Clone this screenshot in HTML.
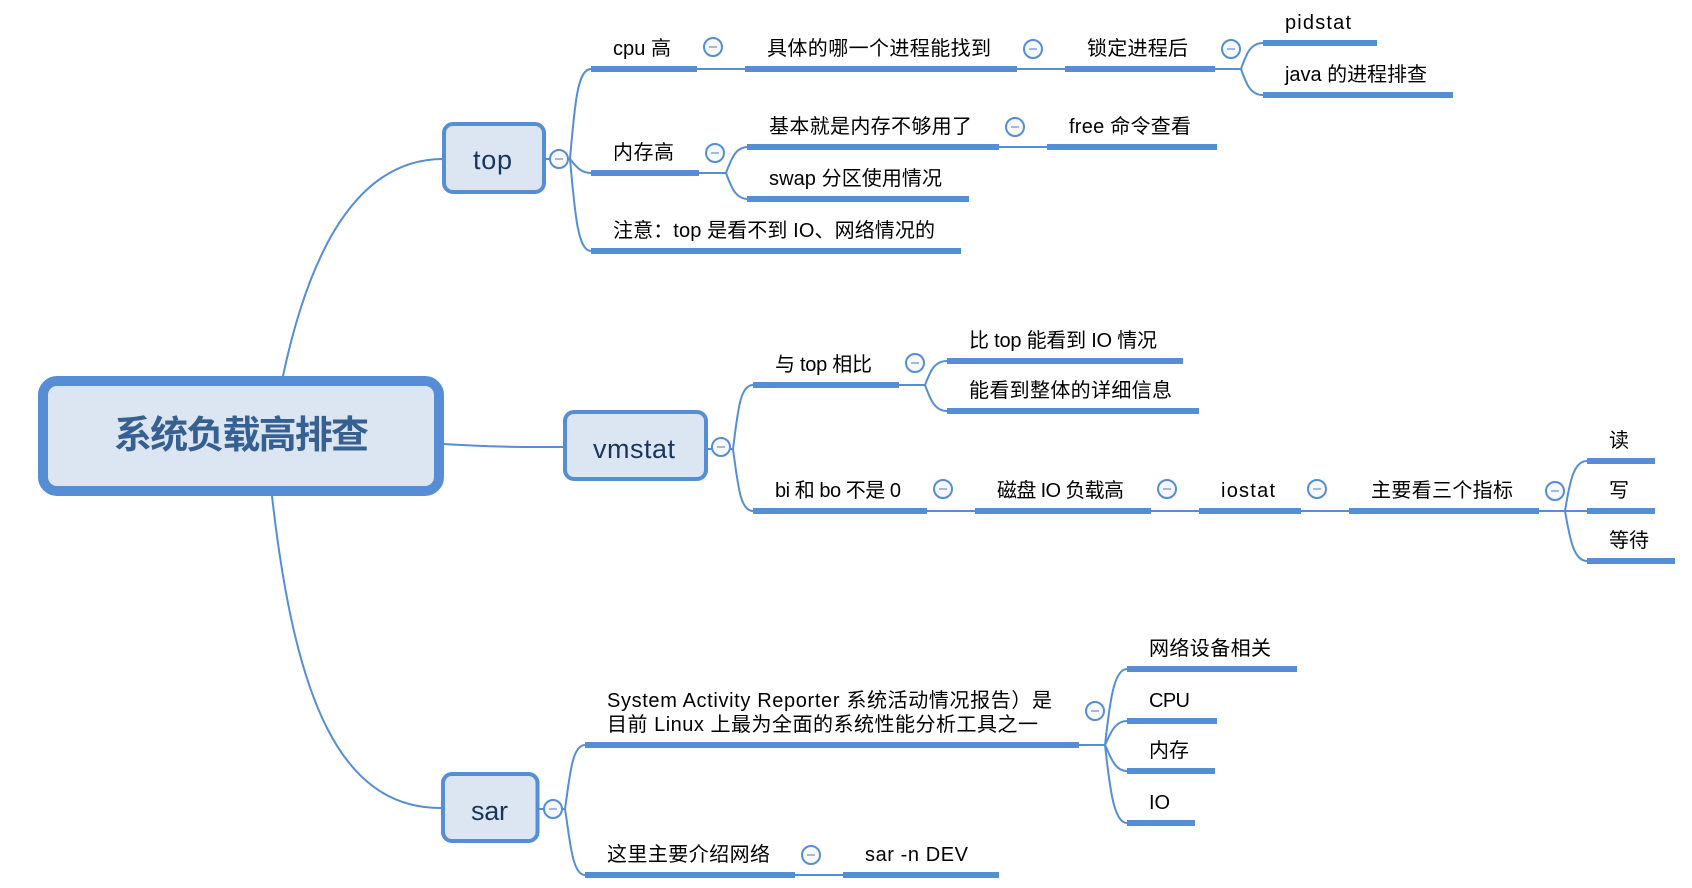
<!DOCTYPE html>
<html><head><meta charset="utf-8"><style>
html,body{margin:0;padding:0;background:#fff;width:1692px;height:888px;overflow:hidden}
svg{display:block}
text{font-family:"Liberation Sans","Noto Sans CJK SC",sans-serif;font-size:20px;fill:#000}
.b{fill:#558ed5}
.c{fill:none;stroke:#558ed5;stroke-width:2}
.n{fill:#dce6f2;stroke:#558ed5;stroke-width:4}
.o{fill:#f6f8fc;stroke:#558ed5;stroke-width:2}
.m{stroke:#a3b8df;stroke-width:2}
.t{font-size:27px;fill:#17365d}
</style></head><body>
<svg width="1692" height="888" viewBox="0 0 1692 888" xmlns="http://www.w3.org/2000/svg">
<!-- main curves -->
<path class="c" d="M283,376 C315,225 370,159 443,159"/>
<path class="c" d="M443,444 C490,447 520,447 563,447"/>
<path class="c" d="M272,496 C295,700 340,808 441,808"/>
<!-- connectors -->
<path class="c" d="M546,159H570 C575,100 578,69 591,69 M570,159 C575,165 580,173 591,173 M570,159 C575,215 578,251 591,251"/>
<path class="c" d="M697,69H745 M1017,69H1065 M1215,69H1241 C1246,55 1250,43 1263,43 M1241,69 C1246,83 1250,95 1263,95"/>
<path class="c" d="M699,173H726 C731,160 735,147 748,147 M726,173 C731,186 735,199 748,199 M999,147H1047"/>
<path class="c" d="M707,449H733 C738,410 740,385 753,385 M733,449 C738,485 740,511 753,511"/>
<path class="c" d="M899,385H925 C930,372 934,361 947,361 M925,385 C930,398 934,411 947,411"/>
<path class="c" d="M927,511H975 M1151,511H1199 M1301,511H1349 M1539,511H1587 M1565,511 C1570,480 1574,461 1587,461 M1565,511 C1570,540 1574,561 1587,561"/>
<path class="c" d="M1079,745H1105 C1110,700 1114,669 1127,669 M1105,745 C1110,735 1114,721 1127,721 M1105,745 C1110,755 1114,771 1127,771 M1105,745 C1110,790 1114,823 1127,823"/>
<path class="c" d="M539,809H565 C570,775 572,745 585,745 M565,809 C570,840 572,875 585,875 M795,875H845"/>
<!-- bars -->
<rect class="b" x="591" y="66" width="106" height="6"/>
<rect class="b" x="745" y="66" width="272" height="6"/>
<rect class="b" x="1065" y="66" width="150" height="6"/>
<rect class="b" x="1263" y="40" width="114" height="6"/>
<rect class="b" x="1263" y="92" width="190" height="6"/>
<rect class="b" x="591" y="170" width="108" height="6"/>
<rect class="b" x="747" y="144" width="252" height="6"/>
<rect class="b" x="1047" y="144" width="170" height="6"/>
<rect class="b" x="747" y="196" width="222" height="6"/>
<rect class="b" x="591" y="248" width="370" height="6"/>
<rect class="b" x="753" y="382" width="146" height="6"/>
<rect class="b" x="947" y="358" width="236" height="6"/>
<rect class="b" x="947" y="408" width="252" height="6"/>
<rect class="b" x="753" y="508" width="174" height="6"/>
<rect class="b" x="975" y="508" width="176" height="6"/>
<rect class="b" x="1199" y="508" width="102" height="6"/>
<rect class="b" x="1349" y="508" width="190" height="6"/>
<rect class="b" x="1587" y="458" width="68" height="6"/>
<rect class="b" x="1587" y="508" width="68" height="6"/>
<rect class="b" x="1587" y="558" width="88" height="6"/>
<rect class="b" x="585" y="742" width="494" height="6"/>
<rect class="b" x="1127" y="666" width="170" height="6"/>
<rect class="b" x="1127" y="718" width="90" height="6"/>
<rect class="b" x="1127" y="768" width="88" height="6"/>
<rect class="b" x="1127" y="820" width="68" height="6"/>
<rect class="b" x="585" y="872" width="210" height="6"/>
<rect class="b" x="843" y="872" width="156" height="6"/>
<!-- nodes -->
<rect x="43" y="381" width="396" height="110" rx="14" fill="#dce6f2" stroke="#558ed5" stroke-width="10"/>
<text x="114" y="448" textLength="255" style="font-size:38px;font-weight:bold;fill:#366092">系统负载高排查</text>
<rect class="n" x="444" y="124" width="100" height="68" rx="9"/>
<text class="t" x="473" y="169" textLength="39">top</text>
<rect class="n" x="565" y="412" width="141" height="67" rx="9"/>
<text class="t" x="593" y="458" textLength="82">vmstat</text>
<rect class="n" x="443" y="774" width="94.500" height="67" rx="9"/>
<text class="t" x="471" y="820" textLength="37">sar</text>
<!-- circles -->
<g>
<circle class="o" cx="559" cy="159" r="9"/><path class="m" d="M555,159H563"/>
<circle class="o" cx="721" cy="447" r="9"/><path class="m" d="M717,447H725"/>
<circle class="o" cx="553" cy="809" r="9"/><path class="m" d="M549,809H557"/>
<circle class="o" cx="713" cy="47" r="9"/><path class="m" d="M709,47H717"/>
<circle class="o" cx="1033" cy="49" r="9"/><path class="m" d="M1029,49H1037"/>
<circle class="o" cx="1231" cy="49" r="9"/><path class="m" d="M1227,49H1235"/>
<circle class="o" cx="715" cy="153" r="9"/><path class="m" d="M711,153H719"/>
<circle class="o" cx="1015" cy="127" r="9"/><path class="m" d="M1011,127H1019"/>
<circle class="o" cx="915" cy="363" r="9"/><path class="m" d="M911,363H919"/>
<circle class="o" cx="943" cy="489" r="9"/><path class="m" d="M939,489H947"/>
<circle class="o" cx="1167" cy="489" r="9"/><path class="m" d="M1163,489H1171"/>
<circle class="o" cx="1317" cy="489" r="9"/><path class="m" d="M1313,489H1321"/>
<circle class="o" cx="1555" cy="491" r="9"/><path class="m" d="M1551,491H1559"/>
<circle class="o" cx="1095" cy="711" r="9"/><path class="m" d="M1091,711H1099"/>
<circle class="o" cx="811" cy="855" r="9"/><path class="m" d="M807,855H815"/>
</g>
<!-- labels -->
<text x="613" y="55" textLength="58">cpu 高</text>
<text x="767" y="55" textLength="224">具体的哪一个进程能找到</text>
<text x="1087" y="55" textLength="101">锁定进程后</text>
<text x="1285" y="29" textLength="66">pidstat</text>
<text x="1285" y="81" textLength="142">java 的进程排查</text>
<text x="769" y="133" textLength="203">基本就是内存不够用了</text>
<text x="1069" y="133" textLength="122">free 命令查看</text>
<text x="613" y="159" textLength="61">内存高</text>
<text x="769" y="185" textLength="173">swap 分区使用情况</text>
<text x="613" y="237" textLength="322">注意：top 是看不到 IO、网络情况的</text>
<text x="775" y="371" textLength="97">与 top 相比</text>
<text x="969" y="347" textLength="188">比 top 能看到 IO 情况</text>
<text x="969" y="397" textLength="203">能看到整体的详细信息</text>
<text x="775" y="497" textLength="126">bi 和 bo 不是 0</text>
<text x="997" y="497" textLength="127">磁盘 IO 负载高</text>
<text x="1221" y="497" textLength="54">iostat</text>
<text x="1371" y="497" textLength="142">主要看三个指标</text>
<text x="1609" y="447" textLength="20">读</text>
<text x="1609" y="497" textLength="20">写</text>
<text x="1609" y="547" textLength="40">等待</text>
<text x="607" y="707" textLength="445">System Activity Reporter 系统活动情况报告）是</text>
<text x="607" y="731" textLength="431">目前 Linux 上最为全面的系统性能分析工具之一</text>
<text x="1149" y="655" textLength="122">网络设备相关</text>
<text x="1149" y="707" textLength="41">CPU</text>
<text x="1149" y="757" textLength="40">内存</text>
<text x="1149" y="809" textLength="21">IO</text>
<text x="607" y="861" textLength="163">这里主要介绍网络</text>
<text x="865" y="861" textLength="103">sar -n DEV</text>
</svg>
</body></html>
